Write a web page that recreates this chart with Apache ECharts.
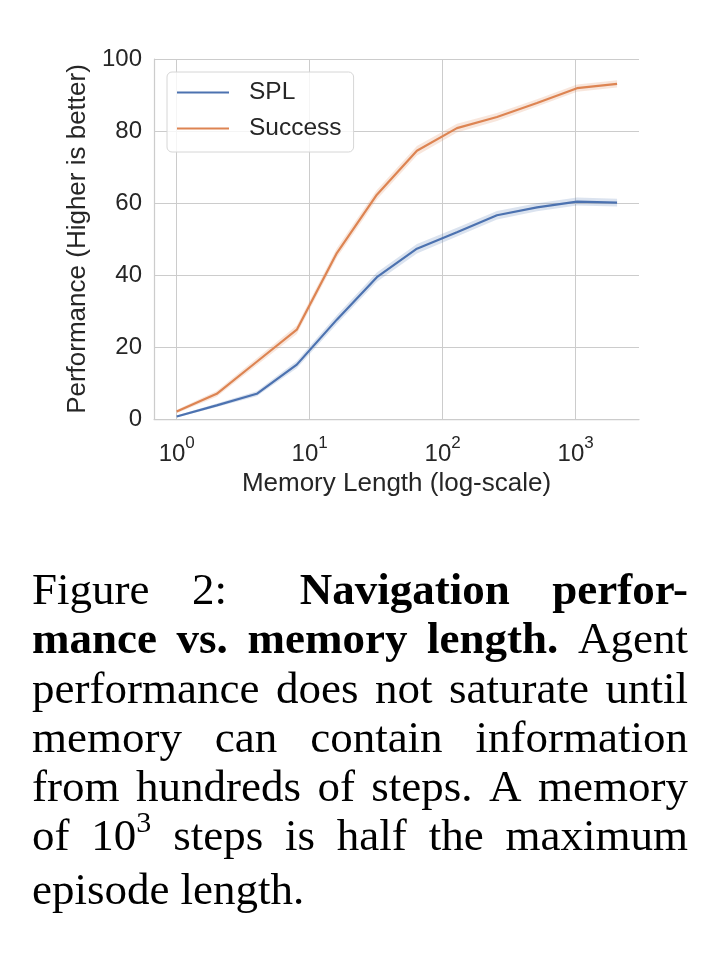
<!DOCTYPE html>
<html>
<head>
<meta charset="utf-8">
<script src="https://cdn.jsdelivr.net/npm/echarts@6/dist/echarts.min.js"></script>
<style>
  html, body { margin: 0; padding: 0; background: #ffffff; }
  #wrap { position: relative; width: 726px; height: 972px; overflow: hidden; }
  #chart { position: absolute; left: 0; top: 0; width: 726px; height: 972px; }
  #caption { position: absolute; left: 32px; top: 565px; width: 656px;
    font-family: "Liberation Serif", "Times New Roman", serif; font-size: 45px;
    line-height: 49.3px; color: #000; }
  .ln { display: flex; justify-content: space-between; white-space: nowrap; }
  .ln.last { justify-content: flex-start; gap: 11px; }
  b { font-weight: bold; }
  sup { font-size: 30px; vertical-align: 0; position: relative; top: -18px; }
</style>
</head>
<body>
<div id="wrap">
  <div id="chart"></div>
  <div id="caption">
    <div class="ln"><span>Figure</span><span>2:</span><b style="margin-left:30px">Navigation</b><b>perfor-</b></div>
    <div class="ln"><b>mance</b><b>vs.</b><b>memory</b><b>length.</b><span>Agent</span></div>
    <div class="ln"><span>performance</span><span>does</span><span>not</span><span>saturate</span><span>until</span></div>
    <div class="ln"><span>memory</span><span>can</span><span>contain</span><span>information</span></div>
    <div class="ln"><span>from</span><span>hundreds</span><span>of</span><span>steps.</span><span>A</span><span>memory</span></div>
    <div class="ln"><span>of</span><span>10<sup>3</sup></span><span>steps</span><span>is</span><span>half</span><span>the</span><span>maximum</span></div>
    <div class="ln last"><span>episode</span><span>length.</span></div>
  </div>
</div>
<script>
// ---- data ----
const memoryLength = [1, 2, 4, 8, 16, 32, 64, 128, 256, 512, 1024, 2048];
const splValues     = [0.7, 3.8, 7.0, 15.1, 27.6, 39.4, 47.3, 51.9, 56.6, 58.8, 60.4, 60.1];
const splSpread     = [0.3, 0.5, 0.7, 1.0, 1.2, 1.3, 1.3, 1.2, 1.2, 1.1, 1.1, 1.1];
const successValues = [2.1, 7.0, 15.9, 24.8, 46.1, 62.3, 74.5, 80.8, 83.9, 87.8, 91.9, 93.1];
const successSpread = [0.5, 0.8, 1.0, 1.2, 1.3, 1.3, 1.3, 1.2, 1.1, 1.0, 1.0, 1.0];
const yTicks = [0, 20, 40, 60, 80, 100];
const seriesNames = ['SPL', 'Success'];

const FONT = '"Liberation Sans", Arial, Helvetica, sans-serif';
const TXT = '#262626';
const BLUE = '#4c72b0', ORANGE = '#dd8452';

function pairs(vals) { return memoryLength.map((m, i) => [m, vals[i]]); }
function bandData(vals, spread) { return memoryLength.map((m, i) => [m, vals[i] - spread[i], vals[i] + spread[i]]); }
function bandRender(vals, spread, fill) {
  return function (params, api) {
    if (params.dataIndex !== 0) return null;
    const pts = [];
    for (let i = 0; i < memoryLength.length; i++) pts.push(api.coord([memoryLength[i], vals[i] + spread[i]]));
    for (let i = memoryLength.length - 1; i >= 0; i--) pts.push(api.coord([memoryLength[i], vals[i] - spread[i]]));
    return { type: 'polygon', shape: { points: pts }, style: { fill: fill } };
  };
}

const chart = echarts.init(document.getElementById('chart'), null, { renderer: 'canvas' });
chart.setOption({
  animation: false,
  backgroundColor: '#ffffff',
  grid: { left: 154, right: 87, top: 59, bottom: 553, containLabel: false },
  legend: {
    data: seriesNames,
    orient: 'vertical',
    left: 167, top: 72,
    padding: [8, 12, 11, 10],
    icon: 'rect',
    itemWidth: 52, itemHeight: 2, itemGap: 11,
    backgroundColor: 'rgba(255,255,255,0.8)',
    borderColor: '#d6d6d6', borderWidth: 1, borderRadius: 5,
    textStyle: { fontFamily: FONT, fontSize: 24.5, color: TXT, padding: [0, 0, 0, 15], lineHeight: 25 }
  },
  xAxis: {
    type: 'log', logBase: 10, min: 0.675, max: 2994,
    name: 'Memory Length (log-scale)', nameLocation: 'middle', nameGap: 52,
    nameTextStyle: { fontFamily: FONT, fontSize: 26, color: TXT },
    axisLine: { show: true, lineStyle: { color: '#cccccc', width: 1.25 } },
    axisTick: { show: false },
    splitLine: { show: true, showMinLine: false, showMaxLine: false, lineStyle: { color: '#cccccc', width: 1 } },
    minorTick: { show: false }, minorSplitLine: { show: false },
    axisLabel: {
      margin: 16, showMinLabel: false, showMaxLabel: false,
      formatter: function (v) {
        const e = Math.log10(v), r = Math.round(e);
        if (Math.abs(e - r) > 1e-6) return '';
        return '{b|10}{s|' + r + '}';
      },
      rich: {
        b: { fontFamily: FONT, fontSize: 24, color: TXT, lineHeight: 38 },
        s: { fontFamily: FONT, fontSize: 17, color: TXT, lineHeight: 17, verticalAlign: 'top' }
      }
    }
  },
  yAxis: {
    type: 'value', min: yTicks[0], max: yTicks[yTicks.length - 1], interval: yTicks[1] - yTicks[0],
    name: 'Performance (Higher is better)', nameLocation: 'middle', nameGap: 61,
    nameTextStyle: { fontFamily: FONT, fontSize: 26, color: TXT },
    axisLine: { show: true, lineStyle: { color: '#cccccc', width: 1.25 } },
    axisTick: { show: false },
    splitLine: { show: true, lineStyle: { color: '#cccccc', width: 1 } },
    axisLabel: { margin: 12, fontFamily: FONT, fontSize: 24, color: TXT }
  },
  series: [
    { name: 'SPL band', type: 'custom', data: bandData(splValues, splSpread), encode: { x: 0, y: [1, 2] },
      renderItem: bandRender(splValues, splSpread, 'rgba(76,114,176,0.2)'), z: 1, silent: true, clip: true },
    { name: 'Success band', type: 'custom', data: bandData(successValues, successSpread), encode: { x: 0, y: [1, 2] },
      renderItem: bandRender(successValues, successSpread, 'rgba(221,132,82,0.2)'), z: 1, silent: true, clip: true },
    { name: seriesNames[0], type: 'line', data: pairs(splValues), symbol: 'none', showSymbol: false,
      lineStyle: { color: BLUE, width: 2.2 }, itemStyle: { color: BLUE }, z: 3 },
    { name: seriesNames[1], type: 'line', data: pairs(successValues), symbol: 'none', showSymbol: false,
      lineStyle: { color: ORANGE, width: 2.2 }, itemStyle: { color: ORANGE }, z: 3 }
  ]
});
</script>
</body>
</html>
